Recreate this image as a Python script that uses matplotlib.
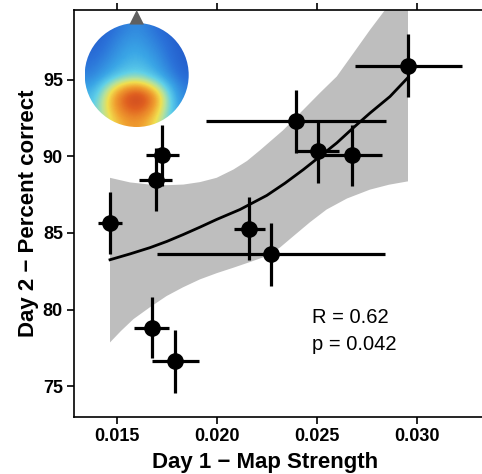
import numpy as np
import matplotlib
matplotlib.use('Agg')
import matplotlib.pyplot as plt
from matplotlib.colors import LinearSegmentedColormap
from matplotlib.patches import Circle, Polygon

plt.rcParams['font.family'] = ['Liberation Sans', 'DejaVu Sans']

# subjects: map strength (day 1) vs percent correct (day 2)
map_strength = [0.01465, 0.01693, 0.01726, 0.01674, 0.01792, 0.02162, 0.02270, 0.02393, 0.02503, 0.02673, 0.02957]
pct_correct = [85.65, 88.49, 90.07, 78.82, 76.61, 85.29, 83.60, 92.28, 90.33, 90.07, 95.91]
strength_err = [0.0006, 0.00083, 0.00083, 0.00088, 0.00117, 0.00078, 0.0057, 0.0045, 0.00107, 0.0015, 0.00267]
correct_err = [2.05, 2.05, 2.0, 2.0, 2.03, 2.05, 2.07, 2.05, 2.07, 2.0, 2.05]

# smooth fit and its confidence band
fit_x = [0.01465, 0.01565, 0.01665, 0.01750, 0.01832, 0.01915, 0.01998, 0.02115, 0.02249, 0.02340,
         0.02432, 0.02515, 0.02599, 0.02680, 0.02765, 0.02865, 0.02955]
fit_y = [83.25, 83.63, 84.04, 84.45, 84.90, 85.38, 85.88, 86.53, 87.45, 88.25,
         89.14, 90.00, 90.88, 91.85, 92.83, 93.91, 95.15]
band_up_x = [0.01465, 0.01565, 0.01665, 0.01750, 0.01832, 0.01915, 0.01998, 0.02082, 0.02150,
             0.02215, 0.02330, 0.02432, 0.02515, 0.02599, 0.02680, 0.02765, 0.0284, 0.02955]
band_up_y = [88.6, 88.3, 88.16, 88.12, 88.16, 88.32, 88.6, 89.14, 89.7,
             90.4, 91.7, 93.05, 94.15, 95.22, 96.7, 98.26, 99.56, 101.5]
band_lo_x = [0.01465, 0.01520, 0.01582, 0.01665, 0.01748, 0.01830, 0.01915, 0.02000, 0.02082,
             0.02165, 0.02249, 0.02315, 0.02382, 0.02465, 0.02548, 0.02650, 0.02765, 0.02860, 0.02955]
band_lo_y = [77.85, 78.6, 79.37, 80.15, 80.88, 81.45, 81.97, 82.38, 82.73,
             83.1, 83.49, 84.05, 84.79, 85.7, 86.53, 87.25, 87.83, 88.15, 88.37]

# coarse scalp map values (rows front->back, cols left->right)
topo = [
    [0.12, 0.15, 0.20, 0.25, 0.28, 0.24, 0.18, 0.14, 0.12],
    [0.14, 0.18, 0.24, 0.30, 0.32, 0.28, 0.22, 0.16, 0.12],
    [0.17, 0.21, 0.28, 0.34, 0.36, 0.32, 0.26, 0.18, 0.13],
    [0.21, 0.26, 0.33, 0.38, 0.40, 0.37, 0.30, 0.21, 0.14],
    [0.25, 0.32, 0.40, 0.45, 0.47, 0.43, 0.36, 0.26, 0.17],
    [0.34, 0.46, 0.60, 0.70, 0.73, 0.66, 0.53, 0.37, 0.23],
    [0.40, 0.54, 0.72, 0.88, 0.98, 0.86, 0.66, 0.44, 0.27],
    [0.42, 0.55, 0.70, 0.82, 0.86, 0.78, 0.62, 0.44, 0.29],
    [0.42, 0.52, 0.64, 0.72, 0.74, 0.68, 0.56, 0.42, 0.30],
]
topo_cmap = LinearSegmentedColormap.from_list('topo', [
    (0.0, '#1a3fb8'), (0.2, '#2a70d8'), (0.35, '#3aa6e6'), (0.45, '#60d0e8'),
    (0.55, '#b8e29a'), (0.62, '#f0e050'), (0.72, '#f0a030'), (0.85, '#e06020'),
    (1.0, '#c03a20')])

fig = plt.figure(figsize=(4.82, 4.74), dpi=100)
ax = fig.add_axes([74 / 482, 1 - 417 / 474, 413 / 482, 407 / 474])

ax.fill(band_up_x + band_lo_x[::-1], band_up_y + band_lo_y[::-1],
        color='#bebebe', lw=0, zorder=1)
ax.plot(fit_x, fit_y, color='black', lw=2.0, zorder=2)
ax.errorbar(map_strength, pct_correct, xerr=strength_err, yerr=correct_err,
            fmt='o', color='black', ms=11, elinewidth=2.3, capsize=0, zorder=3)

ax.text(0.02475, 78.6, 'R = 0.62\np = 0.042', fontsize=14.5, va='center',
        ha='left', linespacing=1.55)

ax.set_xlim(0.01285, 0.0335)
ax.set_ylim(72.98, 99.56)
ax.set_xticks([0.015, 0.020, 0.025, 0.030])
ax.set_xticklabels(['0.015', '0.020', '0.025', '0.030'])
ax.set_yticks([75, 80, 85, 90, 95])
ax.spines['right'].set_visible(False)
for side in ['left', 'top', 'bottom']:
    ax.spines[side].set_linewidth(1.2)
ax.tick_params(axis='both', direction='out', length=5, width=1.2,
               labelsize=13, top=True, labeltop=False, pad=3)
for lab in ax.get_xticklabels() + ax.get_yticklabels():
    lab.set_fontweight('bold')
ax.set_xlabel('Day 1 \u2212 Map Strength', fontsize=16, fontweight='bold')
ax.set_ylabel('Day 2 \u2212 Percent correct', fontsize=16, fontweight='bold', labelpad=3)
ax.xaxis.set_label_coords(0.4625, -0.085)

# scalp map inset
r_px = 52
cx, cy = 136.7, 75
box = 2.4 * r_px
inset = fig.add_axes([(cx - box / 2) / 482, 1 - (cy + box / 2) / 474, box / 482, box / 474])
inset.set_xlim(-1.2, 1.2)
inset.set_ylim(-1.2, 1.2)
inset.axis('off')
inset.patch.set_alpha(0)
inset.add_patch(Polygon([[-0.14, 0.97], [0.14, 0.97], [0.0, 1.25]], closed=True,
                        color='#606060', lw=0, clip_on=False))
img = inset.imshow(np.array(topo), cmap=topo_cmap, vmin=0, vmax=1,
                   extent=(-1, 1, -1, 1), origin='upper', interpolation='bicubic')
img.set_clip_path(Circle((0, 0), 1.0, transform=inset.transData))

fig.savefig('out.png', dpi=100)
